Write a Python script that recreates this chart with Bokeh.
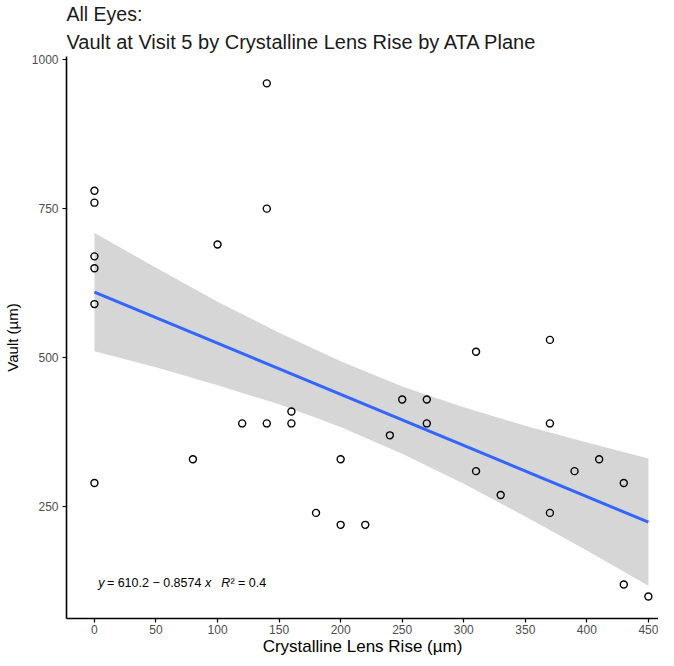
from bokeh.plotting import figure
from bokeh.models import Range1d, FixedTicker, Title
from bokeh.core.properties import value
from bokeh.embed import file_html
from bokeh.resources import INLINE

# ---- data ----
lens_rise = [0, 0, 0, 0, 0, 0, 80, 100, 120, 140, 140, 140, 160, 160, 180, 200, 200,
             220, 240, 250, 270, 270, 310, 310, 330, 370, 370, 370, 390, 410, 430, 430, 450]
vault = [780, 760, 670, 650, 590, 290, 330, 690, 390, 960, 750, 390, 410, 390, 240, 330, 220,
         220, 370, 430, 430, 390, 510, 310, 270, 530, 390, 240, 310, 330, 290, 120, 100]

fit_x = [0, 450]
fit_y = [610.2, 224.4]

band_x = [0, 50, 100, 150, 200, 250, 300, 350, 400, 450]
band_upper = [709, 651, 594, 542, 494, 452, 417, 386, 358, 331]
band_lower = [511, 484, 454, 422, 384, 339, 289, 234, 177, 118]

x_ticks = [0, 50, 100, 150, 200, 250, 300, 350, 400, 450]
y_ticks = [250, 500, 750, 1000]

title_line1 = "All Eyes:"
title_line2 = "Vault at Visit 5 by Crystalline Lens Rise by ATA Plane"
x_label = "Crystalline Lens Rise (µm)"
y_label = "Vault (µm)"

eq_pos = (3, 123)
eq_parts = ["y", "= 610.2 \u2212 0.8574", "x", "R", "\u00b2 = 0.4"]
eq_styles = ["italic", "normal", "italic", "italic", "normal"]

FONT = "Liberation Sans"

p = figure(width=658, height=658, output_backend="svg", toolbar_location=None,
           x_range=Range1d(-22.7, 458.2), y_range=Range1d(63, 1005),
           min_border_left=66, min_border_right=0, min_border_top=55, min_border_bottom=38)

# outer title line
p.title.text = title_line1
p.title.text_font = FONT
p.title.text_font_size = "19.5px"
p.title.text_font_style = "normal"
p.title.text_color = "#1a1a1a"
p.title.align = "left"
p.title.standoff = 0
# inner title line (closer to the plot)
p.add_layout(Title(text=title_line2, text_font=FONT, text_font_size="20px",
                   text_font_style="normal", text_color="#1a1a1a", align="left",
                   standoff=8), "above")

p.outline_line_color = None
p.xgrid.visible = False
p.ygrid.visible = False
p.background_fill_color = "white"

# confidence band
p.varea(x=band_x, y1=band_lower, y2=band_upper, fill_color="#999999", fill_alpha=0.4)
# fitted line
p.line(x=fit_x, y=fit_y, line_color="#3366FF", line_width=3)
# points
p.scatter(x=lens_rise, y=vault, marker="circle", size=7, fill_color=None,
          line_color="#000000", line_width=1.4)

# regression equation text
fs = 12.5
offsets_em = [0, 0.7, 8.55, 9.85, 10.58]
for part, style, off in zip(eq_parts, eq_styles, offsets_em):
    p.text(x=[eq_pos[0]], y=[eq_pos[1]], text=[part], x_offset=off * fs,
           text_font=value(FONT), text_font_size="12.5px", text_font_style=style,
           text_color="#000000", text_baseline="middle", text_align="left")

for ax in (p.xaxis[0], p.yaxis[0]):
    ax.axis_line_color = "#000000"
    ax.axis_line_width = 1.6
    ax.major_tick_line_color = "#000000"
    ax.major_tick_line_width = 1.2
    ax.major_tick_out = 4
    ax.major_tick_in = 0
    ax.minor_tick_out = 0
    ax.minor_tick_in = 0
    ax.major_label_text_font = FONT
    ax.major_label_text_font_size = "12px"
    ax.major_label_text_color = "#4d4d4d"
    ax.axis_label_text_font = FONT
    ax.axis_label_text_font_style = "normal"
    ax.axis_label_text_color = "#000000"

p.xaxis[0].ticker = FixedTicker(ticks=x_ticks)
p.yaxis[0].ticker = FixedTicker(ticks=y_ticks)
p.xaxis[0].axis_label = x_label
p.yaxis[0].axis_label = y_label
p.xaxis[0].axis_label_text_font_size = "17px"
p.yaxis[0].axis_label_text_font_size = "15px"
p.xaxis[0].major_label_standoff = 2
p.xaxis[0].axis_label_standoff = 0
p.yaxis[0].major_label_standoff = 4
p.yaxis[0].axis_label_standoff = 8

open("out.html", "w").write(file_html(p, INLINE))
